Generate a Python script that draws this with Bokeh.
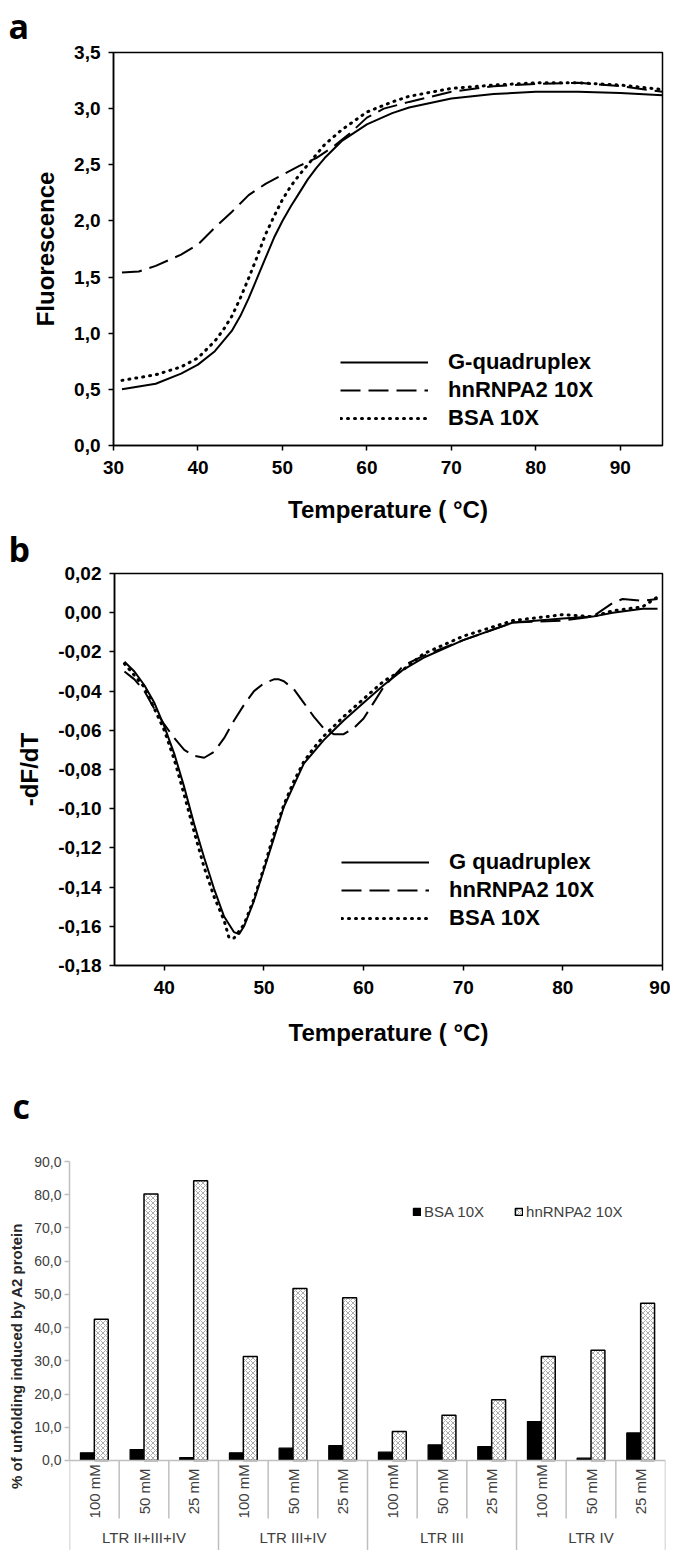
import math
from bokeh.plotting import figure
from bokeh.models import (Range1d, FixedTicker, CustomJSTickFormatter, Legend,
                          LegendItem, Title, ColumnDataSource)
from bokeh.embed import file_html
from bokeh.resources import INLINE
from bokeh.core.properties import value

# ---------------- data: panel a (Fluorescence vs Temperature) ----------------
a_x_gq = [31, 35, 38, 40, 42, 44, 45, 46, 47, 48, 49, 50, 51, 52, 53, 54, 55, 57, 60, 63, 65, 70, 75, 80, 85, 90, 95]
a_y_gq = [0.50, 0.55, 0.64, 0.72, 0.84, 1.02, 1.15, 1.31, 1.49, 1.67, 1.85, 2.00, 2.13, 2.25, 2.37, 2.47, 2.56,
          2.71, 2.86, 2.96, 3.01, 3.09, 3.13, 3.15, 3.15, 3.14, 3.12]
a_x_bsa = [31, 35, 38, 40, 42, 43, 44, 45, 46, 47, 48, 49, 50, 51, 52, 53, 55, 57, 60, 63, 65, 70, 75, 80, 85, 90, 95]
a_y_bsa = [0.58, 0.63, 0.70, 0.78, 0.93, 1.03, 1.15, 1.31, 1.49, 1.68, 1.88, 2.04, 2.19, 2.31, 2.41, 2.50, 2.68,
           2.81, 2.97, 3.06, 3.11, 3.18, 3.21, 3.23, 3.23, 3.21, 3.17]
a_x_hn = [31, 33, 35, 38, 40, 42, 44, 46, 48, 50, 52, 54, 56, 58, 60, 62, 65, 70, 75, 80, 85, 90, 95]
a_y_hn = [1.54, 1.55, 1.60, 1.70, 1.79, 1.94, 2.08, 2.23, 2.33, 2.41, 2.49, 2.56, 2.66, 2.78, 2.92, 3.00, 3.06,
          3.15, 3.20, 3.22, 3.23, 3.20, 3.15]
a_xticks = [30, 40, 50, 60, 70, 80, 90]
a_yticks = [0.0, 0.5, 1.0, 1.5, 2.0, 2.5, 3.0, 3.5]

# ---------------- data: panel b (-dF/dT vs Temperature) ----------------
b_x_gq = [36, 37, 38, 39, 40, 41, 42, 43, 44, 45, 46, 47, 47.5, 48, 49, 50, 51, 52, 53, 54, 55, 56, 57, 58, 60,
          62, 64, 66, 70, 75, 80, 83, 85, 88, 89.5]
b_y_gq = [-0.025, -0.030, -0.037, -0.046, -0.058, -0.072, -0.089, -0.108, -0.125, -0.141, -0.155, -0.163, -0.164,
          -0.160, -0.147, -0.131, -0.115, -0.099, -0.088, -0.077, -0.071, -0.065, -0.060, -0.055, -0.046,
          -0.037, -0.029, -0.023, -0.014, -0.005, -0.003, -0.002, 0.000, 0.002, 0.002]
b_x_bsa = [36, 38, 40, 41, 42, 43, 44, 45, 46, 46.5, 47, 48, 49, 50, 51, 52, 53, 54, 55, 56, 57, 58, 60, 62, 64,
           66, 70, 75, 80, 83, 85, 88, 89.5]
b_y_bsa = [-0.026, -0.038, -0.060, -0.075, -0.093, -0.112, -0.130, -0.145, -0.157, -0.166, -0.166, -0.159,
           -0.146, -0.130, -0.113, -0.098, -0.086, -0.076, -0.069, -0.063, -0.058, -0.053, -0.044, -0.035,
           -0.029, -0.021, -0.012, -0.004, -0.001, -0.002, 0.001, 0.003, 0.008]
b_x_hn = [36, 37, 38, 39, 40, 41, 42, 43, 44, 45, 46, 47, 48, 49, 50, 51, 51.5, 52, 53, 54, 55, 56, 57, 58, 59,
          60, 61, 62, 64, 66, 70, 75, 80, 83, 85, 86, 88, 89.5]
b_y_hn = [-0.030, -0.034, -0.040, -0.049, -0.057, -0.064, -0.070, -0.073, -0.074, -0.071, -0.064, -0.055, -0.047,
          -0.040, -0.036, -0.034, -0.034, -0.035, -0.039, -0.046, -0.053, -0.059, -0.062, -0.062, -0.059,
          -0.054, -0.046, -0.038, -0.027, -0.022, -0.014, -0.005, -0.004, -0.002, 0.005, 0.007, 0.006, 0.007]
b_xticks = [40, 50, 60, 70, 80, 90]
b_yticks = [-0.18, -0.16, -0.14, -0.12, -0.10, -0.08, -0.06, -0.04, -0.02, 0.00, 0.02]

# ---------------- data: panel c (bars) ----------------
c_groups = ["LTR II+III+IV", "LTR III+IV", "LTR III", "LTR IV"]
c_concs = ["100 mM", "50 mM", "25 mM"]
c_bsa = [2.3, 3.3, 0.9, 2.3, 3.7, 4.5, 2.5, 4.7, 4.2, 11.7, 0.7, 8.3]
c_hn = [42.5, 80.2, 84.2, 31.3, 51.8, 49.0, 8.7, 13.6, 18.3, 31.3, 33.2, 47.3]
c_yticks = [0, 10, 20, 30, 40, 50, 60, 70, 80, 90]

FONT = "Liberation Sans"
W = 670


def letter(p, txt, offset, standoff):
    t = Title(text=txt, align="left", offset=offset, standoff=standoff, vertical_align="top",
              text_font="Open Sans", text_font_style="bold", text_font_size="34px",
              text_color="black", text_line_height=1.0)
    p.add_layout(t, "above")


def style_line_panel(p, xticks, yticks, ydec, xlab_standoff):
    p.outline_line_color = "black"
    p.outline_line_width = 1.5
    p.xgrid.visible = False
    p.ygrid.visible = False
    for ax in (p.xaxis[0], p.yaxis[0]):
        ax.axis_line_color = "black"
        ax.axis_line_width = 1.5
        ax.major_tick_line_color = "black"
        ax.major_tick_line_width = 1.5
        ax.major_tick_out = 5
        ax.major_tick_in = 0
        ax.minor_tick_line_color = None
        ax.major_label_text_font = FONT
        ax.major_label_text_font_style = "bold"
        ax.major_label_text_font_size = "19px"
        ax.major_label_text_color = "black"
        ax.axis_label_text_font = FONT
        ax.axis_label_text_font_style = "bold"
        ax.axis_label_text_font_size = "24px"
        ax.axis_label_text_color = "black"
    p.xaxis.ticker = FixedTicker(ticks=xticks)
    p.yaxis.ticker = FixedTicker(ticks=yticks)
    p.yaxis.formatter = CustomJSTickFormatter(code="return tick.toFixed(%d).replace('.', ',');" % ydec)
    p.xaxis.major_label_standoff = 10
    p.yaxis.major_label_standoff = 8
    p.xaxis.axis_label_standoff = xlab_standoff
    p.yaxis.axis_label_standoff = 12


def add_curves(p, xs, ys, names, loc):
    r1 = p.line(xs[0], ys[0], line_color="black", line_width=2)
    r2 = p.line(xs[1], ys[1], line_color="black", line_width=2, line_dash="20 8")
    r3 = p.line(xs[2], ys[2], line_color="black", line_width=3, line_dash="1 6", line_cap="round")
    leg = Legend(items=[LegendItem(label=names[0], renderers=[r1]),
                        LegendItem(label=names[1], renderers=[r2]),
                        LegendItem(label=names[2], renderers=[r3])],
                 location=loc, orientation="vertical", glyph_width=88, glyph_height=20,
                 label_standoff=20, spacing=2, padding=0, margin=0,
                 border_line_color=None, background_fill_alpha=0,
                 label_text_font=FONT, label_text_font_style="bold",
                 label_text_font_size="22px", label_text_color="black")
    p.add_layout(leg)


# ---------------- panel a ----------------
pa = figure(width=W, height=525, output_backend="svg", toolbar_location=None,
            x_range=Range1d(30, 95), y_range=Range1d(0, 3.5),
            min_border_left=113, min_border_right=8, min_border_top=52, min_border_bottom=79,
            x_axis_label="Temperature ( °C)", y_axis_label="Fluorescence")
style_line_panel(pa, a_xticks, a_yticks, 1, 19)
add_curves(pa, [a_x_gq, a_x_hn, a_x_bsa], [a_y_gq, a_y_hn, a_y_bsa],
           ["G-quadruplex", "hnRNPA2 10X", "BSA 10X"], (227, 14))
letter(pa, "a", -105, 4)

# ---------------- panel b ----------------
pb = figure(width=W, height=525, output_backend="svg", toolbar_location=None,
            x_range=Range1d(35, 90), y_range=Range1d(-0.18, 0.02),
            min_border_left=114, min_border_right=8, min_border_top=47, min_border_bottom=85,
            x_axis_label="Temperature ( °C)", y_axis_label="-dF/dT")
style_line_panel(pb, b_xticks, b_yticks, 2, 22)
add_curves(pb, [b_x_gq, b_x_hn, b_x_bsa], [b_y_gq, b_y_hn, b_y_bsa],
           ["G quadruplex", "hnRNPA2 10X", "BSA 10X"], (227, 34))
letter(pb, "b", -106, 0)

# ---------------- panel c ----------------
n = len(c_bsa)
ncon = len(c_concs)
y_bottom = -27.1
pc = figure(width=W, height=500, output_backend="svg", toolbar_location=None,
            x_range=Range1d(0, n), y_range=Range1d(y_bottom, 90),
            min_border_left=69, min_border_right=5, min_border_top=111, min_border_bottom=0,
            y_axis_label="% of unfolding induced by A2 protein")
pc.outline_line_color = None
pc.xgrid.visible = False
pc.ygrid.visible = False
pc.xaxis.visible = False
ya = pc.yaxis[0]
ya.bounds = (0, 90)
ya.ticker = FixedTicker(ticks=c_yticks)
ya.formatter = CustomJSTickFormatter(code="return tick.toFixed(1).replace('.', ',');")
ya.axis_line_color = "#bfbfbf"
ya.axis_line_width = 1.5
ya.major_tick_line_color = "#bfbfbf"
ya.major_tick_line_width = 1.5
ya.major_tick_out = 5
ya.major_tick_in = 0
ya.minor_tick_line_color = None
ya.major_label_text_font = FONT
ya.major_label_text_font_size = "14px"
ya.major_label_text_color = "#404040"
ya.major_label_standoff = 3
ya.axis_label_text_font = FONT
ya.axis_label_text_font_style = "bold"
ya.axis_label_text_font_size = "15px"
ya.axis_label_text_color = "#262626"
ya.axis_label_standoff = 6

xc = [i + 0.5 for i in range(n)]
src = ColumnDataSource(dict(
    xb=[x - 0.14 for x in xc], xh=[x + 0.14 for x in xc], bsa=c_bsa, hn=c_hn))
rb = pc.vbar(x="xb", top="bsa", bottom=0, width=0.28, source=src,
             fill_color="black", line_color="black", line_width=1.2)
rh = pc.vbar(x="xh", top="hn", bottom=0, width=0.28, source=src,
             fill_color="white", line_color="black", line_width=1.5,
             hatch_pattern="x", hatch_color="#8a8a8a", hatch_scale=5, hatch_weight=0.7)

# category axis drawn with segments (Excel style)
pc.segment(x0=[0], y0=[0], x1=[n], y1=[0], line_color="#bfbfbf", line_width=1.5)
div_x = list(range(0, n + 1))
div_y1 = [y_bottom if i % ncon == 0 else -17.5 for i in div_x]
pc.segment(x0=div_x, y0=[0] * len(div_x), x1=div_x, y1=div_y1, line_color="#bfbfbf", line_width=1.5)
sub_labels = [c_concs[i % ncon] for i in range(n)]
pc.text(x=xc, y=[-9.3] * n, text=sub_labels, angle=math.pi / 2, text_align="center",
        text_baseline="middle", text_font=value(FONT), text_font_size="15px", text_color="#404040")
gx = [g * ncon + ncon / 2 for g in range(len(c_groups))]
pc.text(x=gx, y=[-23.2] * len(c_groups), text=c_groups, text_align="center", text_baseline="middle",
        text_font=value(FONT), text_font_size="15px", text_color="#404040")

lc = Legend(items=[LegendItem(label="BSA 10X", renderers=[rb]),
                   LegendItem(label="hnRNPA2 10X", renderers=[rh])],
            location=(343, 330), orientation="horizontal", glyph_width=9, glyph_height=9,
            label_standoff=3, spacing=30, padding=0, margin=0, label_height=14,
            border_line_color=None, background_fill_alpha=0,
            label_text_font=FONT, label_text_font_size="15px", label_text_color="#404040")
pc.add_layout(lc)
letter(pc, "c", -57, 62)

open("out.html", "w").write(file_html([pa, pb, pc], INLINE))
